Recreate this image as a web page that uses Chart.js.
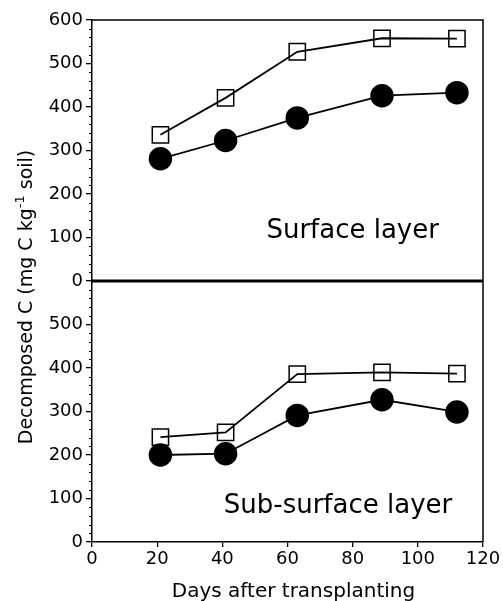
<!DOCTYPE html>
<html lang="en">
<head>
  <meta charset="UTF-8" />
  <title>Decomposed C - surface and sub-surface layer</title>
  <script src="https://cdn.jsdelivr.net/npm/chart.js"></script>
  <style>
    body { margin: 0; background: #fff; }
    canvas { display: block; }
  </style>
</head>
<body>
  <canvas id="chart" width="503" height="601"></canvas>

  <script>
    const days = [21, 41, 63, 89, 112];
    const surfaceOpen = [336, 421, 527, 558, 557];
    const surfaceFilled = [281, 323, 375, 426, 433];
    const subOpen = [241, 252, 386, 390, 387];
    const subFilled = [200, 203, 291, 327, 299];
    const xTicks = [0, 20, 40, 60, 80, 100, 120];
    const yTicks = [0, 100, 200, 300, 400, 500, 600];

    const FONT = 'DejaVu Sans';

    const toPoints = ys => days.map((d, i) => ({ x: d, y: ys[i] }));

    function series(ys, axis, filled) {
      return {
        data: toPoints(ys),
        yAxisID: axis,
        borderColor: '#000',
        borderWidth: 1.8,
        tension: 0,
        pointStyle: filled ? 'circle' : 'rect',
        pointRadius: filled ? 11 : 11.5,
        pointHoverRadius: 11,
        pointBorderWidth: 1.5,
        pointBorderColor: '#000',
        pointBackgroundColor: filled ? '#000' : 'rgba(0,0,0,0)',
        clip: false
      };
    }

    function yAxis(weight, ticks) {
      return {
        type: 'linear',
        position: 'left',
        stack: 'panels',
        stackWeight: 1,
        weight: weight,
        min: 0,
        max: 600,
        afterBuildTicks: s => { s.ticks = ticks.map(v => ({ value: v })); },
        afterFit: s => { s.width = 92; },
        ticks: { color: '#000', font: { family: FONT, size: 18 }, padding: 3, autoSkip: false },
        grid: { drawOnChartArea: false, color: '#000', lineWidth: 1.3, tickLength: 6 },
        border: { color: '#000', width: 1.5 }
      };
    }

    // panel names sit at data coordinates of their panel
    const panelLabels = [
      { text: 'Surface layer', axis: 'yTop', x: 80, y: 100 },
      { text: 'Sub-surface layer', axis: 'yBot', x: 75.5, y: 67 }
    ];

    const decorations = {
      id: 'decorations',
      afterDraw(chart) {
        const { ctx, chartArea: a, scales } = chart;
        const top = scales.yTop, bot = scales.yBot, x = scales.x;
        ctx.save();
        ctx.strokeStyle = '#000';

        // minor ticks every 20
        ctx.lineWidth = 1;
        [top, bot].forEach(s => {
          for (let v = 20; v < 600; v += 20) {
            if (v % 100 === 0) continue;
            const py = Math.round(s.getPixelForValue(v)) + 0.5;
            ctx.beginPath();
            ctx.moveTo(a.left - 3, py);
            ctx.lineTo(a.left, py);
            ctx.stroke();
          }
        });

        // frame
        ctx.lineWidth = 1.5;
        ctx.beginPath();
        ctx.moveTo(a.left, a.top);
        ctx.lineTo(a.right, a.top);
        ctx.lineTo(a.right, a.bottom);
        ctx.stroke();

        ctx.lineWidth = 3;
        ctx.beginPath();
        ctx.moveTo(a.left, top.bottom);
        ctx.lineTo(a.right, top.bottom);
        ctx.stroke();

        ctx.fillStyle = '#000';
        ctx.textBaseline = 'alphabetic';
        ctx.textAlign = 'center';
        ctx.font = '26px "' + FONT + '"';
        panelLabels.forEach(l => {
          ctx.fillText(l.text, x.getPixelForValue(l.x), scales[l.axis].getPixelForValue(l.y));
        });

        // x title
        ctx.font = '20px "' + FONT + '"';
        ctx.fillText('Days after transplanting', (a.left + a.right) / 2 + 6, 597);

        // y title with superscript
        const big = '19px "' + FONT + '"', small = '13px "' + FONT + '"';
        const parts = [
          { t: 'Decomposed C (mg C kg', f: big, dy: 0 },
          { t: '-1', f: small, dy: -8 },
          { t: ' soil)', f: big, dy: 0 }
        ];
        let total = 0;
        parts.forEach(p => { ctx.font = p.f; p.w = ctx.measureText(p.t).width; total += p.w; });
        ctx.translate(32, 297);
        ctx.rotate(-Math.PI / 2);
        ctx.textAlign = 'left';
        let cx = -total / 2;
        parts.forEach(p => {
          ctx.font = p.f;
          ctx.fillText(p.t, cx, p.dy);
          cx += p.w;
        });
        ctx.restore();
      }
    };

    new Chart(document.getElementById('chart'), {
      type: 'line',
      data: {
        datasets: [
          series(surfaceOpen, 'yTop', false),
          series(surfaceFilled, 'yTop', true),
          series(subOpen, 'yBot', false),
          series(subFilled, 'yBot', true)
        ]
      },
      options: {
        responsive: false,
        animation: false,
        layout: { padding: { top: 20, right: 20, left: 0, bottom: 0 } },
        plugins: { legend: { display: false }, tooltip: { enabled: false } },
        scales: {
          x: {
            type: 'linear',
            min: 0,
            max: 120,
            afterBuildTicks: s => { s.ticks = xTicks.map(v => ({ value: v })); },
            afterFit: s => { s.height = 59; },
            ticks: { color: '#000', font: { family: FONT, size: 18 }, padding: 2, autoSkip: false, maxRotation: 0 },
            grid: { drawOnChartArea: false, color: '#000', lineWidth: 1.3, tickLength: 5 },
            border: { color: '#000', width: 1.5 }
          },
          yTop: yAxis(1, yTicks),
          yBot: yAxis(0, yTicks.filter(v => v < 600))
        }
      },
      plugins: [decorations]
    });
  </script>
</body>
</html>
